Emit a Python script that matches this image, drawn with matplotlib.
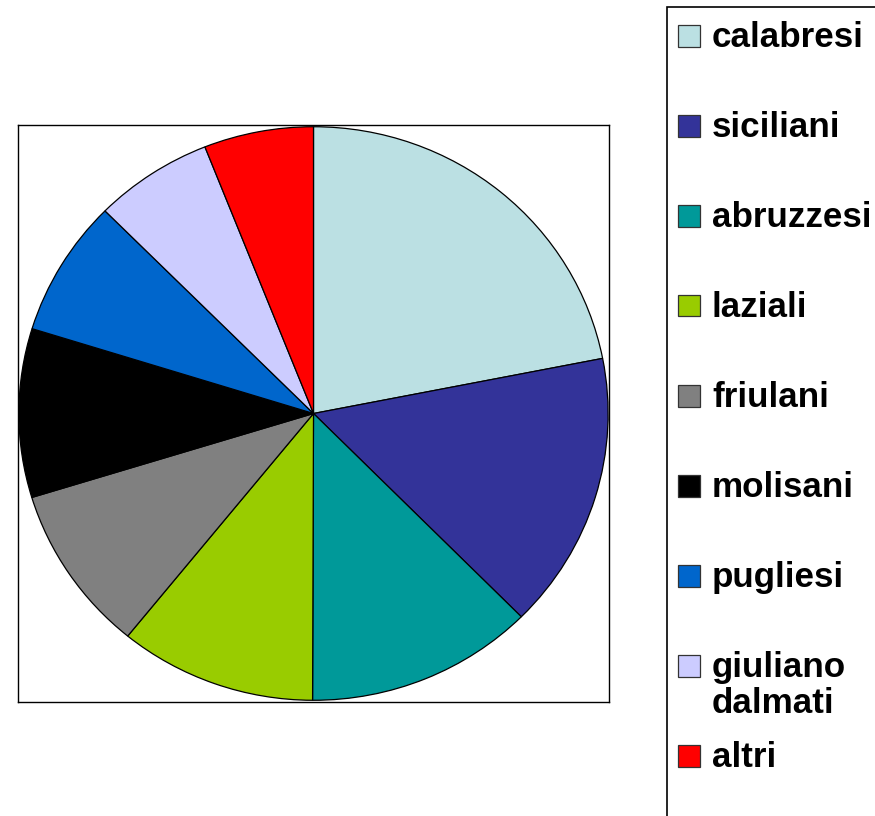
import matplotlib
matplotlib.use("Agg")
import matplotlib.pyplot as plt
from matplotlib.patches import Rectangle

# quote percentuali per regione di provenienza
labels = ['calabresi', 'siciliani', 'abruzzesi', 'laziali', 'friulani',
          'molisani', 'pugliesi', 'giuliano\ndalmati', 'altri']
values = [21.9, 15.6, 12.5, 10.8, 9.4, 9.5, 7.7, 6.5, 6.0]
colors = ['#BBE0E3', '#333399', '#009999', '#99CC00', '#808080',
          '#000000', '#0066CC', '#CCCCFF', '#FF0000']

W, H = 875, 816
fig = plt.figure(figsize=(W / 100, H / 100), dpi=100)

# pie in its box (pixel layout of the original)
ax = fig.add_axes([18 / W, (H - 702) / H, 591 / W, 577 / H])
ax.pie(values, colors=colors, startangle=90, counterclock=False, radius=1,
       wedgeprops=dict(edgecolor='black', linewidth=0.9))
ax.set_aspect('auto')
ax.set_xlim(-1.003, 1.003)
ax.set_ylim(-1.006, 1.006)
ax.set_frame_on(True)
for s in ax.spines.values():
    s.set_color('black')
    s.set_linewidth(1.0)
ax.set_xticks([])
ax.set_yticks([])

# legend drawn by hand, box runs off the figure on right and bottom
box = Rectangle((667 / W, -0.05), 0.5, (H - 7) / H + 0.05,
                transform=fig.transFigure, fill=False,
                edgecolor='black', linewidth=1.2, clip_on=False)
fig.patches.append(box)

step = 90
for i, (lab, c) in enumerate(zip(labels, colors)):
    top = 25 + i * step
    sq = Rectangle((678 / W, (H - top - 21.5) / H), 22 / W, 21.5 / H,
                   transform=fig.transFigure, facecolor=c,
                   edgecolor='#333333', linewidth=0.9)
    fig.patches.append(sq)
    for j, line in enumerate(lab.split('\n')):
        base = top + 22 + j * 36
        fig.text(712 / W, (H - base) / H, line, fontsize=25.2,
                 fontweight='bold', family='Liberation Sans',
                 va='baseline', ha='left')

fig.savefig('out.png', dpi=100)
